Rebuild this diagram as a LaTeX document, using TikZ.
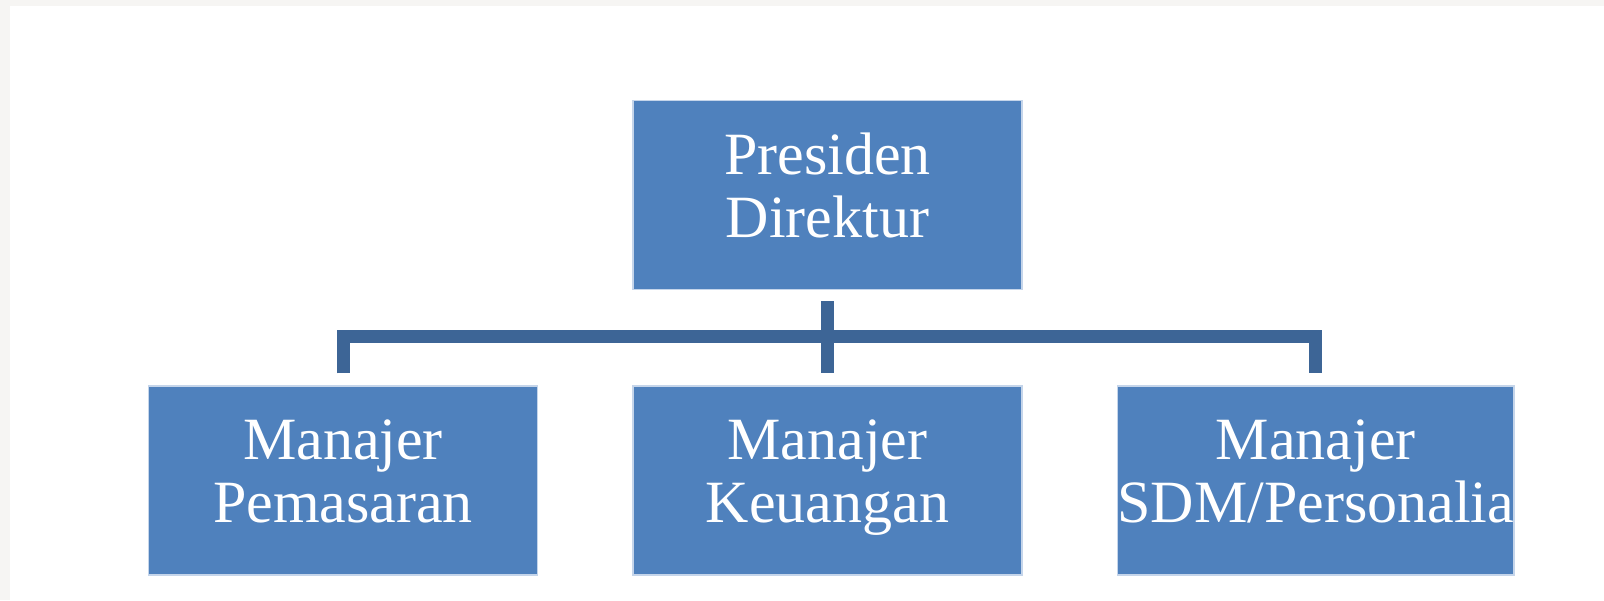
\documentclass[tikz,border=0pt]{standalone}
\usepackage{fontspec}
\setmainfont{Liberation Serif}
\usetikzlibrary{positioning,calc}
\definecolor{boxblue}{HTML}{4F81BD}
\definecolor{boxedge}{HTML}{C5D5EA}
\definecolor{linkblue}{HTML}{3D6596}
\definecolor{pagegray}{HTML}{F6F5F3}
\tikzset{
	orgbox/.style={fill=boxblue, draw=boxedge, line width=1.5pt, text=white,
		minimum width=389pt, minimum height=189pt, inner sep=0pt, align=center,
		font=\fontsize{60}{63}\selectfont,
		execute at begin node=\strut, execute at end node=\strut},
	link/.style={draw=linkblue, line width=13pt}
}

\begin{document}
\begin{tikzpicture}[x=1pt,y=-1pt]
		\fill[pagegray] (0,0) rectangle (1604,600);
		\fill[white] (10,6) rectangle (1604,600);
		\useasboundingbox (0,0) rectangle (1604,600);
		\node[orgbox] (presdir) at (827.5,195) {Presiden\\Direktur};
		\node[orgbox, below=95pt of presdir] (keuangan) {Manajer\\Keuangan};
		\node[orgbox, left=94pt of keuangan] (pemasaran) {Manajer\\Pemasaran};
		\node[orgbox, right=94pt of keuangan] (sdm) {Manajer\\SDM/Personalia};
		\coordinate (bar) at ($(presdir.south)+(0,46)$);
		\draw[link] ($(pemasaran.north)+(0,-12)$) |- (bar) -| ($(sdm.north)+(0,-12)$);
		\draw[link] ($(presdir.south)+(0,11)$) -- ($(keuangan.north)+(0,-12)$);
\end{tikzpicture}
\end{document}
